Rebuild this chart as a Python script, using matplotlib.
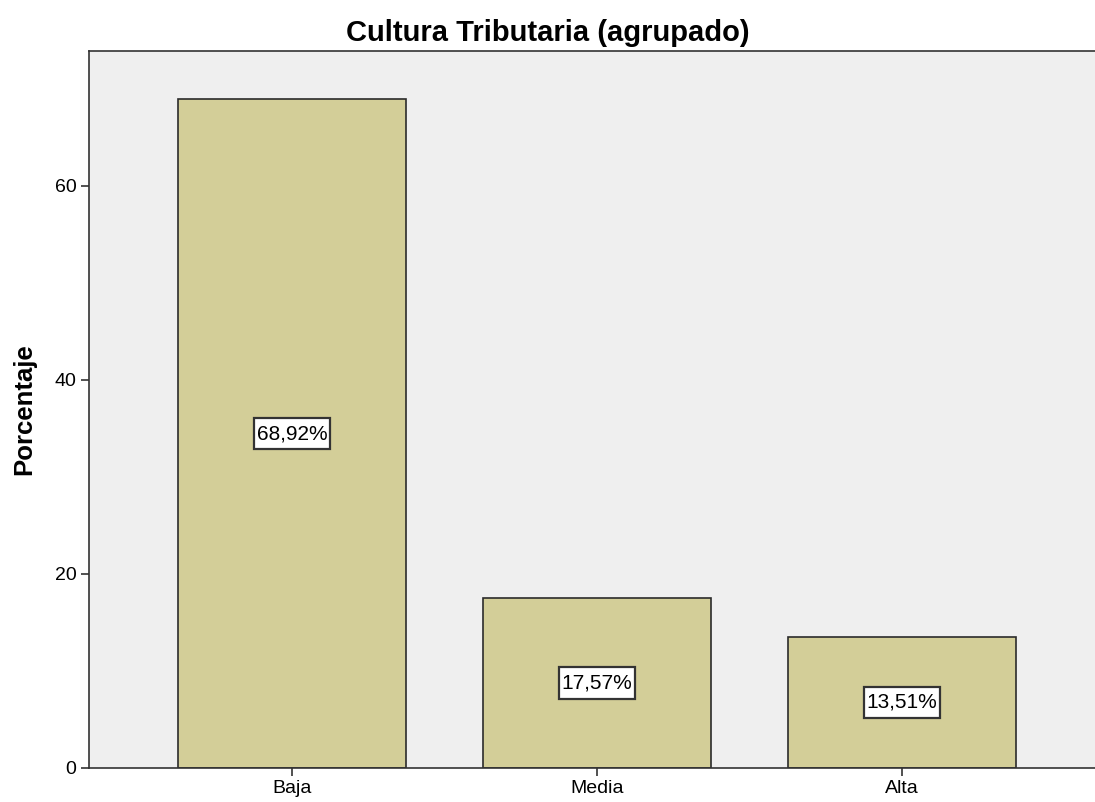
import matplotlib.pyplot as plt
from matplotlib.path import Path

categories = ["Baja", "Media", "Alta"]
percentages = [68.92, 17.57, 13.51]
labels = ["68,92%", "17,57%", "13,51%"]

plt.rcParams["font.family"] = ["Liberation Sans", "DejaVu Sans"]


def label_box(x0, y0, width, height, mutation_size):
    # rectangular box, more padding top/bottom than at the sides
    px = 0.12 * mutation_size
    py = 0.30 * mutation_size
    x0, y0 = x0 - px, y0 - py
    x1, y1 = x0 + width + 2 * px, y0 + height + 2 * py
    return Path([(x0, y0), (x1, y0), (x1, y1), (x0, y1), (x0, y0)], closed=True)


fig = plt.figure(figsize=(10.95, 8.02), dpi=100)
ax = fig.add_axes([0.0813, 0.0424, 0.925, 0.8940])
ax.set_facecolor("#efefef")

x = range(len(categories))
ax.bar(x, percentages, width=0.748, color="#d3ce98", edgecolor="#2b2b2b", linewidth=1.2)

for xi, v, lab in zip(x, percentages, labels):
    ax.text(xi, v / 2, lab, ha="center", va="center", fontsize=15,
            bbox=dict(boxstyle=label_box, fc="white", ec="#333333", lw=1.6))

ax.set_xlim(-0.665, 2.656)
ax.set_ylim(0, 73.9)
ax.set_xticks(list(x))
ax.set_xticklabels(categories)
ax.set_yticks([0, 20, 40, 60])
ax.tick_params(axis="both", labelsize=14, length=6, width=1.2, color="#333333", pad=3)
ax.set_ylabel("Porcentaje", fontsize=18.5, fontweight="bold", labelpad=13)
fig.text(0.5, 0.959, "Cultura Tributaria (agrupado)", ha="center", va="center",
         fontsize=21, fontweight="bold")

for s in ["left", "bottom", "top"]:
    ax.spines[s].set_linewidth(1.2)
    ax.spines[s].set_color("#333333")
ax.spines["right"].set_visible(False)

plt.savefig("out.png", dpi=100)
plt.close()
